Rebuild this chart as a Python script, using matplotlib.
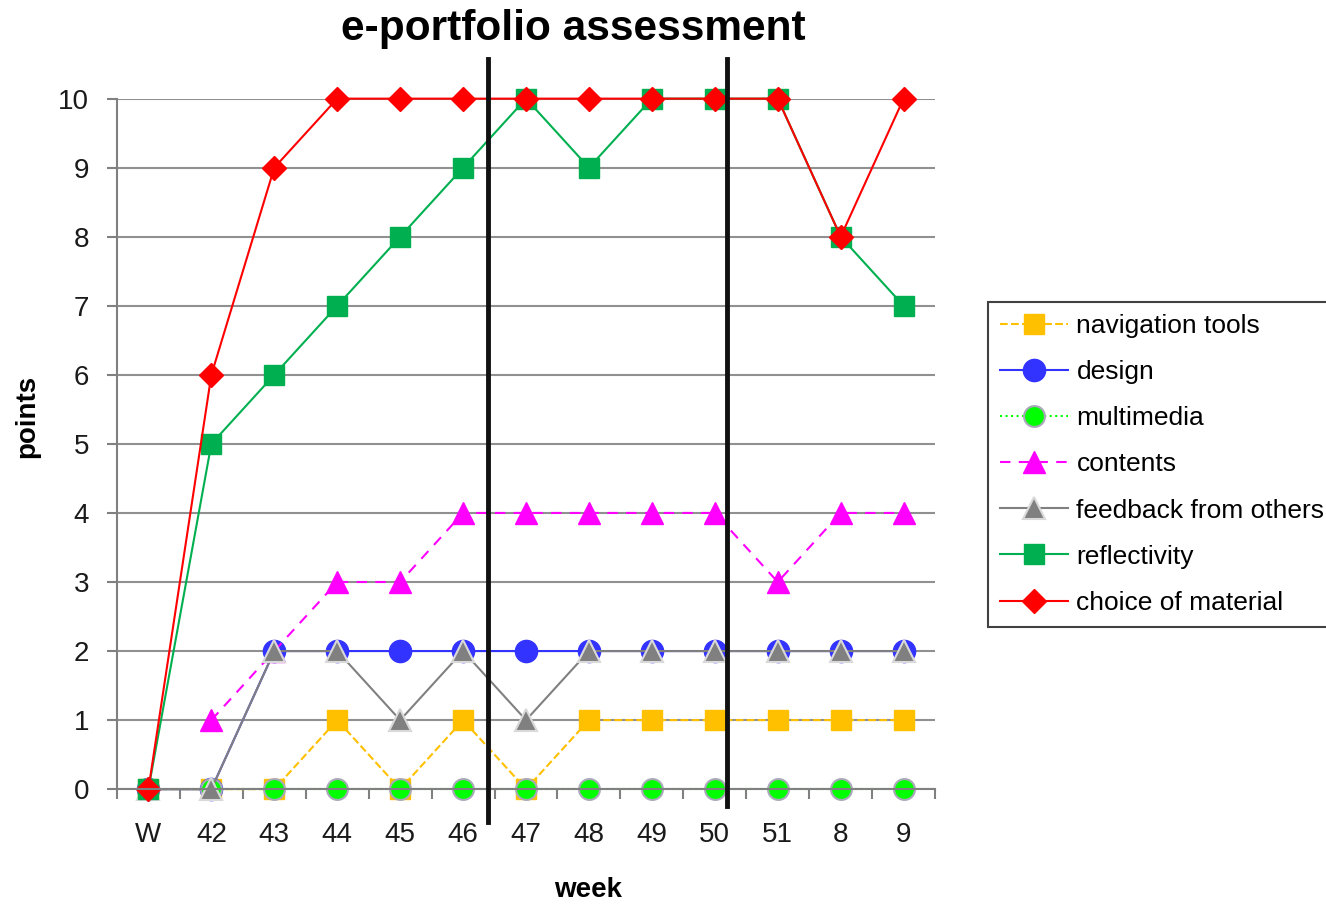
import numpy as np
import matplotlib.pyplot as plt

plt.rcParams['font.family'] = ['Liberation Sans', 'DejaVu Sans']

weeks = ['W', '42', '43', '44', '45', '46', '47', '48', '49', '50', '51', '8', '9']
navigation = [0, 0, 0, 1, 0, 1, 0, 1, 1, 1, 1, 1, 1]
design = [0, 0, 2, 2, 2, 2, 2, 2, 2, 2, 2, 2, 2]
multimedia = [0, 0, 0, 0, 0, 0, 0, 0, 0, 0, 0, 0, 0]
contents = [np.nan, 1, 2, 3, 3, 4, 4, 4, 4, 4, 3, 4, 4]
feedback = [0, 0, 2, 2, 1, 2, 1, 2, 2, 2, 2, 2, 2]
reflectivity = [0, 5, 6, 7, 8, 9, 10, 9, 10, 10, 10, 8, 7]
material = [0, 6, 9, 10, 10, 10, 10, 10, 10, 10, 10, 8, 10]
separators = [5.4, 9.2]

x = np.arange(len(weeks))

fig = plt.figure(figsize=(13.26, 9.05), dpi=100)
ax = fig.add_axes([0.0882, 0.128, 0.617, 0.763])

kw = dict(lw=1.5, clip_on=False)
ax.plot(x, navigation, color='#FFC000', ls='--', marker='s', ms=14,
        mec='#FFC000', label='navigation tools', **kw)
ax.plot(x, design, color='#3333FF', ls='-', marker='o', ms=16,
        mec='#3333FF', label='design', **kw)
ax.plot(x, multimedia, color='#00FF00', ls=':', marker='o', ms=15,
        mec='#A8A8B8', mew=1.5, label='multimedia', **kw)
ax.plot(x, contents, color='#FF00FF', ls=(0, (5, 4)), marker='^', ms=16,
        mec='#FF00FF', label='contents', **kw)
ax.plot(x, feedback, color='#808080', ls='-', marker='^', ms=16,
        mec='#D9D9D9', mew=1.5, label='feedback from others', **kw)
ax.plot(x, reflectivity, color='#00B050', ls='-', marker='s', ms=14,
        mec='#00B050', label='reflectivity', **kw)
ax.plot(x, material, color='#FF0000', ls='-', marker='D', ms=12.5,
        mec='#FF0000', label='choice of material', **kw)

ax.plot([separators[0]] * 2, [-0.48, 10.57], color='#111111', lw=3.5, clip_on=False, zorder=5)
ax.plot([separators[1]] * 2, [-0.25, 10.57], color='#111111', lw=3.5, clip_on=False, zorder=5)

ax.set_xlim(-0.5, len(weeks) - 0.5)
ax.set_ylim(0, 10)
ax.set_yticks(range(0, 11))
ax.set_xticks(x)
ax.set_xticklabels(weeks)
ax.set_xticks(np.arange(-0.5, len(weeks), 1), minor=True)
ax.tick_params(axis='x', which='major', length=0, labelsize=20, pad=24, labelcolor='#1a1a1a')
ax.tick_params(axis='x', which='minor', length=7, width=1.5, color='#808080', direction='out')
ax.tick_params(axis='y', length=7, width=1.5, color='#808080', labelsize=20, pad=13,
               labelcolor='#1a1a1a')
ax.yaxis.grid(True, color='#909090', lw=1.5)
ax.set_axisbelow(True)
for s in ['top', 'right']:
    ax.spines[s].set_visible(False)
for s in ['left', 'bottom']:
    ax.spines[s].set_color('#808080')
    ax.spines[s].set_linewidth(1.5)

fig.text(588 / 1326, 1 - 890 / 905, 'week', fontsize=20, fontweight='bold',
         ha='center', va='center')
fig.text(27 / 1326, 1 - 416 / 905, 'points', fontsize=20, fontweight='bold',
         ha='center', va='center', rotation=90)
fig.text(573 / 1326, 1 - 29 / 905, 'e-portfolio assessment', fontsize=30.5,
         fontweight='bold', ha='center', va='center')

leg = fig.legend(loc='upper left', bbox_to_anchor=(988 / 1326, 1 - 302 / 905),
                 fontsize=19, frameon=True, fancybox=False, edgecolor='#111111',
                 handlelength=2.6, labelspacing=0.84, borderpad=0.45, handletextpad=0.3,
                 borderaxespad=0)
leg.get_frame().set_linewidth(1.5)

fig.savefig('out.png', dpi=100)
